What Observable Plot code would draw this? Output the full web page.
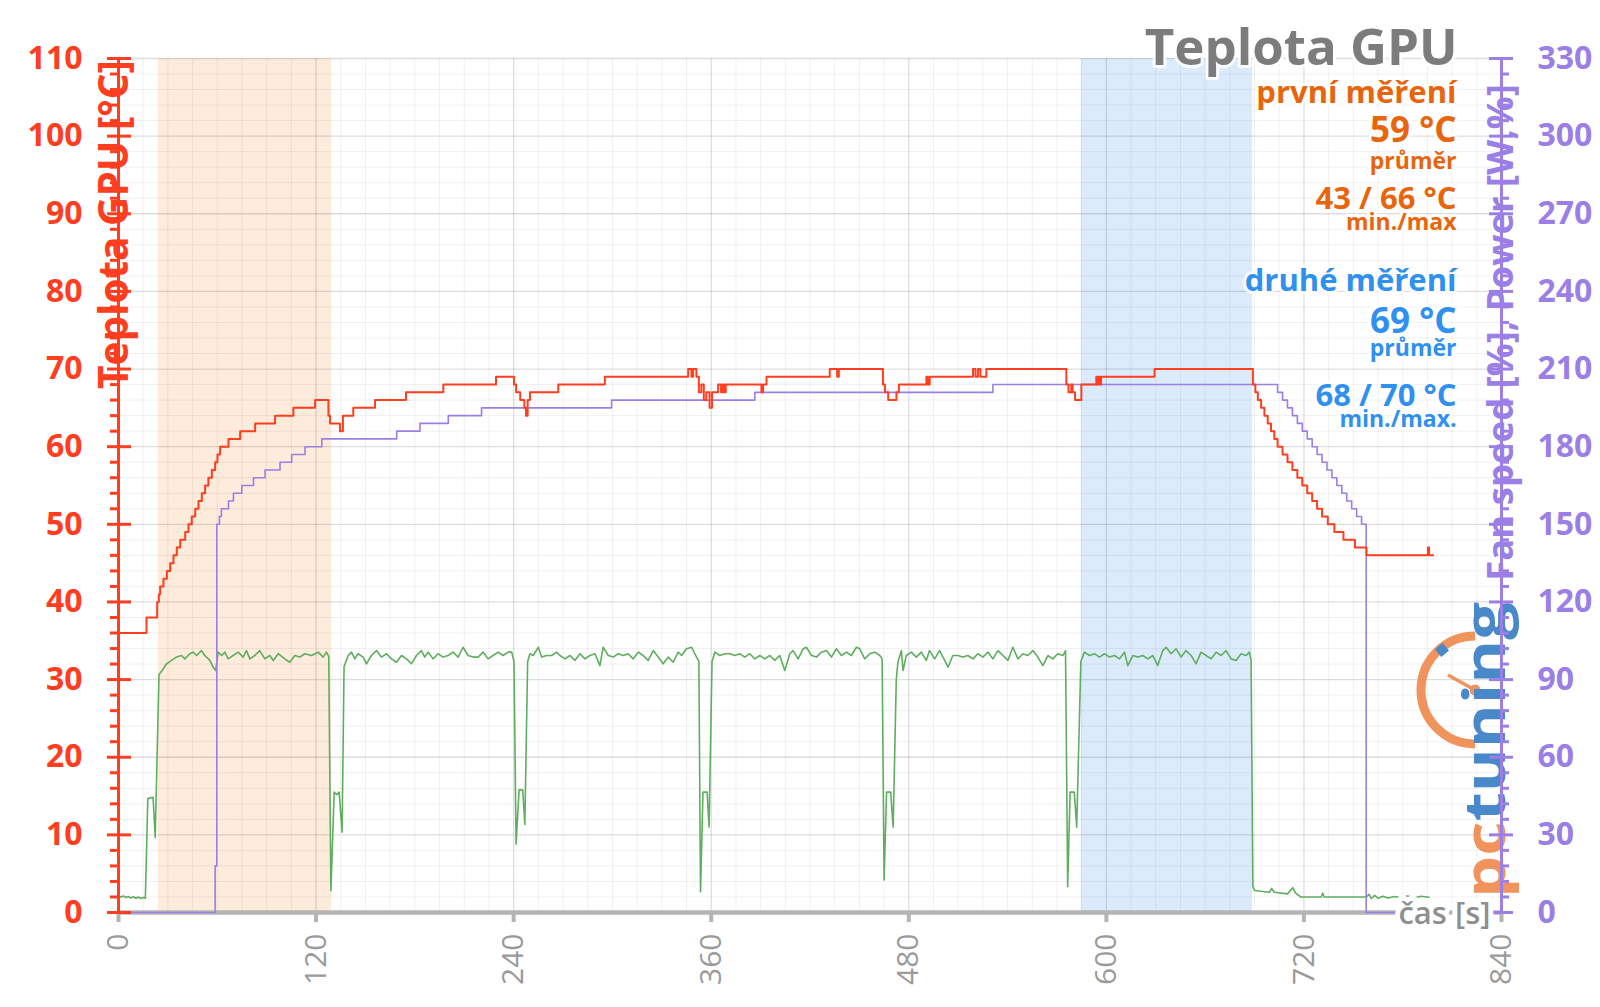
<!DOCTYPE html>
<html><head><meta charset="utf-8">
<script src="https://cdn.jsdelivr.net/npm/d3@7"></script>
<script src="https://cdn.jsdelivr.net/npm/@observablehq/plot@0.6"></script>
<style>html,body{margin:0;padding:0;background:#fff;overflow:hidden}svg{display:block}</style>
</head><body><div id="chart"></div>
<script>
// ---------- data ----------
const xTicks = [0, 120, 240, 360, 480, 600, 720, 840];
const yTicksLeft = [0, 10, 20, 30, 40, 50, 60, 70, 80, 90, 100, 110];
const yTicksRight = [0, 30, 60, 90, 120, 150, 180, 210, 240, 270, 300, 330];
const chartTitle = ["Teplota GPU"];
const leftTitle = ["Teplota GPU [°C]"];
const rightTitle = ["Fan speed [%], Power [W,%]"];
const xTitle = ["čas [s]"];
const firstRunTexts = ["první měření", "59 °C", "průměr", "43 / 66 °C", "min./max"];
const secondRunTexts = ["druhé měření", "69 °C", "průměr", "68 / 70 °C", "min./max."];
const bandStart = [24.3, 584.7];
const bandEnd = [129.5, 688.8];

// GPU temperature [°C] (time s, value) – stepwise
const temperature = [[0,36],[17,38],[23.5,40],[24.5,41],[25.3,42],[27.3,43],[29.4,44],[31.4,45],[33.4,46],[35.4,47],[37.5,48],[40.5,49],[42.5,50],[44.5,51],[46.6,52],[48.6,53],[50.6,54],[52.6,55],[54.6,56],[56.7,57],[58.7,58],[60.1,59],[61.7,60],[66.8,61],[73.9,62],[83,63],[95.1,64],[106.2,65],[119.4,66],[127.5,64],[128.5,63],[134.5,62],[136.3,64],[142.6,65],[155.8,66],[174.6,67],[197.3,68],[229.3,69],[240.2,68],[241.5,67],[244,66],[246.5,65],[247.5,64],[248.5,66],[249.9,67],[267.1,68],[295.4,69],[346,70],[348,69],[349,70],[351,69],[352.5,67],[354,68],[355.5,66],[357,67],[359,65],[360.5,67],[364.2,68],[366,67],[367,68],[368,67],[368.8,68],[390.5,67],[391.5,68],[393.6,69],[432,70],[436.5,69],[437.5,70],[464.3,68],[465.5,67],[467.5,66],[472.5,67],[474,68],[490.7,69],[491.5,68],[492.7,69],[519,70],[520.5,69],[522,70],[523.5,69],[527.1,70],[575.7,68],[577,67],[578.7,68],[579.5,67],[581,66],[584.8,68],[593.9,69],[594.5,68],[595.2,69],[596,68],[596.8,69],[629.3,70],[689,68],[690.5,67],[692,66],[694,65],[696,64],[698,63],[700,62],[702,61],[704,60],[707,59],[710,58],[713,57],[716,56],[719,55],[722,54],[725,53],[728,52],[731,51],[734.5,50],[738.5,49],[744,48],[751,47],[758,46],[795.3,47],[796,46],[798.5,46]];

// Fan speed (right axis units) – stepwise
const fan = [[0,0],[58.7,18],[59.7,150],[61.3,153],[62.5,156],[66.8,159],[69.8,162],[74.9,165],[82,168],[89,171],[98.1,174],[105.2,177],[113.3,180],[123.5,183],[169,186],[183.1,189],[200.3,192],[220.5,195],[299.5,198],[386.5,201],[531.1,204],[704,201],[707,198],[710,195],[713,192],[716,189],[719,186],[722,183],[725,180],[728,177],[731,174],[734,171],[737,168],[740,165],[743,162],[746,159],[749,156],[752,153],[755,150],[757.8,0],[798.5,0]];

// Power [W] (right axis units)
const power = [[0,6.3],[1.5,6.0],[3,6.4],[4.5,5.8],[6,6.2],[7.5,5.6],[9,6.1],[10.5,5.5],[12,6.0],[13.5,5.4],[15,5.8],[16.3,5.5],[17.8,44],[21,44.5],[22.3,29],[24.6,92],[26.5,93.5],[29.2,96.1],[32.2,97.4],[35.2,98.7],[38.3,99.3],[40.3,98],[43.3,100],[45.3,100.6],[47.4,99.3],[50.4,101.2],[52.4,99.3],[55.5,97.4],[57.5,94.8],[59.1,93.5],[60.5,100.6],[62.6,99.3],[64.6,100.6],[66.6,98],[69.6,99.3],[72.7,100.6],[75.7,98.7],[77.7,101.2],[79.8,98],[82.8,99.3],[85.8,101.2],[88.9,98],[91.9,99.3],[94,97.4],[97,100],[101,98],[104,96.7],[107.1,99.3],[110.1,98.7],[113.2,100],[117.2,99.3],[121.3,100.6],[124.3,98.7],[126.3,100.6],[127.7,99],
[129,8.4],[131,46.5],[132.5,45.5],[134,46.5],[135.8,31],[137,95],
[139.5,99.3],[141.5,100.6],[143.5,98],[145.5,100],[148.6,98.7],[150.6,96.1],[153.6,99.3],[156.7,101.2],[159.7,98.7],[162.8,100],[165.8,98],[168.8,96.7],[171.9,99.3],[174.9,98],[177.9,96.1],[181,99.3],[184,101.2],[186,98.7],[188.1,100.6],[191.1,98],[194.1,100],[197.2,98.7],[200.2,99.3],[203.2,100.6],[206.3,98.7],[209.3,102.5],[212.3,99.3],[215.4,98.7],[218.4,98.7],[221.5,100.6],[224.5,98],[227.5,99.3],[230.6,100.6],[233.6,99.3],[236.6,100.6],[238.8,100.6],[240.2,97],
[241.5,26.4],[243.3,47.4],[245.5,47.4],[246.8,34],[248.5,97],
[249.9,100],[251.9,99.3],[255,102.5],[257,98.7],[260,99.3],[263.1,99.3],[266.1,100.6],[268.1,99.3],[271.2,98],[274.2,99.3],[277.2,97.4],[280.3,100],[283.3,98],[286.3,99.3],[289.4,100],[292.4,95.4],[294.4,102.5],[297.5,99.3],[300.5,98.7],[303.5,100],[306.6,99.3],[309.6,100],[312.6,98],[315.7,100.6],[318.7,99.3],[321.7,97.4],[324.8,101.2],[327.8,98.7],[330.8,96.1],[333.9,98.7],[336.9,96.7],[339.9,100.6],[342,99.3],[345,101.9],[348.1,102.5],[351.1,98.7],[352.5,97],
[353.5,8],[355,46.5],[357.5,46.5],[358.7,33],[360.5,97],
[362.2,100.6],[365.2,99.3],[368.3,100],[371.3,100],[374.3,99.3],[377.4,100],[380.4,98.7],[383.4,100],[386.5,98],[389.5,99.3],[392.5,98],[395.6,99.3],[398.6,97.4],[401.6,99.3],[404.7,93.5],[407.7,100],[409.7,101.2],[412.8,98],[415.8,101.9],[417.8,102.5],[420.9,99.3],[423.9,98.7],[426.9,100.6],[430,101.2],[433,98.7],[436,101.9],[439.1,99.3],[442.1,100.6],[445.1,99.3],[448.2,102.5],[450.2,101.9],[453.2,98],[456.3,100],[459.3,100.6],[462.4,99.3],[463.8,98],
[465,12.6],[466.5,46.5],[469,46.5],[470.5,33],[472.4,90],
[473.4,96.7],[475.5,101.2],[476.5,93.5],[478.5,99.3],[481.5,100.6],[484.6,98.7],[487.6,100.6],[490.6,97.4],[492.6,101.2],[495.7,98],[498.7,101.2],[501.8,97.4],[503.8,94.8],[506.8,99.3],[509.8,99.3],[512.9,98.7],[515.9,99.3],[519,98],[522,100],[525,98.7],[528.1,100.6],[531.1,98],[534.1,101.2],[537.2,99.3],[540.2,97.4],[543.2,102.5],[546.3,98],[549.3,100],[552.3,99.3],[555.4,101.2],[558.4,98.7],[561.4,95.4],[564.5,99.3],[567.5,98],[570.5,100],[573.6,99.3],[575.2,101.2],
[576.5,10],[578,46.5],[580.5,46.5],[582,33],[584.5,97],
[586.7,100.6],[589.8,99.3],[592.8,100],[595.8,98.7],[598.9,100],[601.9,98.7],[604.9,99.3],[608,98],[611,100.6],[613,95.4],[616.1,99.3],[619.1,98.7],[622.1,99.3],[625.2,98],[628.2,99.3],[631.2,95.4],[634.3,101.2],[636.3,102.5],[639.3,100],[642.4,101.9],[645.4,98.7],[648.4,101.2],[651.5,99.3],[654.5,96.1],[657.5,100.6],[660.6,99.3],[663.6,98],[666.7,100.6],[669.7,99.3],[672.7,101.2],[675.8,98],[678.8,97.4],[681.8,100],[684.9,99.3],[686.9,100.6],[687.9,97.4],
[689,10],[690,8.5],[699,7.8],[700.4,9.3],[702,7.8],[710,7.2],[713.2,9.6],[715,7.5],[718,6],[730.5,6],[731.4,7.5],[732.3,6],[758,6],[759.5,7],[761,5.4],[763,6.6],[765,5.5],[768,6.3],[771,5.6],[775,6.2],[779,5.7],[783,6.4],[787,5.6],[791,6.3],[796,5.9]];

// ---------- styling ----------
const RED = "#ff3d1f", PURPLE = "#9b7fe6", GREEN = "#5fae5f", GRAY = "#9a9a9a";
const ORANGE_T = "#e8650c", BLUE_T = "#2f90f0";
const R = 3; // right axis units per left axis unit

const tempData = temperature.map(([t, c]) => ({t, c}));
const fanData = fan.map(([t, v]) => ({t, v}));
const powerData = power.map(([t, w]) => ({t, w}));
const bands = bandStart.map((s, i) => ({s, e: bandEnd[i]}));
const minorY = d3.range(0, 111, 2).filter(d => d % 10 !== 0);
const minorX = d3.range(0, 841, 15).filter(d => d % 120 !== 0);

function logo(index, scales, values, dims) {
  const g = d3.create("svg:g").attr("opacity", 0.92);
  const cx = dims.width - dims.marginRight - 26, cy = 690, r = 54;
  g.append("path").attr("d", `M${cx},${cy - r} A${r},${r} 0 0 0 ${cx},${cy + r}`)
    .attr("fill", "none").attr("stroke", "#f08a4f").attr("stroke-width", 9);
  g.append("rect").attr("x", -5).attr("y", -5).attr("width", 10).attr("height", 10)
    .attr("fill", "#3a7fc6").attr("transform", `translate(${cx - 33},${cy - 40}) rotate(-40)`);
  g.append("line").attr("x1", cx - 27).attr("y1", cy - 15).attr("x2", cx).attr("y2", cy)
    .attr("stroke", "#f08a4f").attr("stroke-width", 3.5);
  g.append("circle").attr("cx", cx).attr("cy", cy).attr("r", 5.5).attr("fill", "#f08a4f");
  const t = g.append("text").attr("transform", `translate(${cx + 30},898) rotate(-90)`)
    .attr("text-anchor", "start")
    .attr("font-family", "Open Sans").attr("font-weight", 700).attr("font-size", 58)
    .attr("textLength", 296).attr("lengthAdjust", "spacingAndGlyphs");
  t.append("tspan").attr("fill", "#f08a4f").text("pc");
  t.append("tspan").attr("fill", "#3a7fc6").text("tuning");
  return g.node();
}

const halo = {stroke: "white", strokeWidth: 6, strokeOpacity: 0.85, paintOrder: "stroke"};
function note(txt, color, size, dy) {
  return Plot.text([txt], {frameAnchor: "top-right", text: d => d, textAnchor: "end", lineAnchor: "top",
    dx: -45, dy, fontSize: size, fontWeight: "bold", fill: color, ...halo});
}

const chart = Plot.plot({
  width: 1600, height: 1007,
  marginLeft: 118, marginRight: 99, marginTop: 58, marginBottom: 95,
  x: {domain: [0, 840]},
  y: {domain: [0, 110]},
  style: {fontFamily: "'Open Sans', sans-serif", background: "#fff", overflow: "visible"},
  marks: [
    Plot.rect([bands[0]], {x1: "s", x2: "e", y1: 0, y2: 110, fill: "#fdebdb"}),
    Plot.rect([bands[1]], {x1: "s", x2: "e", y1: 0, y2: 110, fill: "#dcebfc"}),
    Plot.gridX(minorX, {stroke: "#000", strokeOpacity: 0.06}),
    Plot.gridY(minorY, {stroke: "#000", strokeOpacity: 0.06}),
    Plot.gridX(xTicks, {stroke: "#000", strokeOpacity: 0.13, strokeWidth: 1.3}),
    Plot.gridY(yTicksLeft, {stroke: "#000", strokeOpacity: 0.13, strokeWidth: 1.3}),
    Plot.ruleY([0], {x1: 0, x2: 840, stroke: "#b4b4b4", strokeWidth: 4.5}),
    Plot.axisX(xTicks, {tickSize: 10, tickFormat: () => "", stroke: "#b4b4b4", strokeWidth: 4, label: null}),
    Plot.text(xTicks, {x: d => d, frameAnchor: "bottom", text: d => String(d), rotate: -90, textAnchor: "end",
      lineAnchor: "middle", dy: 21, fontSize: 30, fill: GRAY}),
    logo,
    Plot.line(powerData, {x: "t", y: d => d.w / R, stroke: GREEN, strokeWidth: 1.6}),
    Plot.line(fanData, {x: "t", y: d => d.v / R, curve: "step-after", stroke: PURPLE, strokeWidth: 1.6}),
    Plot.line(tempData, {x: "t", y: "c", curve: "step-after", stroke: RED, strokeWidth: 2}),
    Plot.ruleX([0], {y1: 0, y2: 110, stroke: RED, strokeWidth: 3}),
    Plot.ruleX([840], {y1: 0, y2: 110, stroke: PURPLE, strokeWidth: 3}),
    Plot.axisY(minorY, {anchor: "left", tickSize: 10, dx: 2, tickFormat: () => "", stroke: RED, strokeWidth: 3, label: null}),
    Plot.axisY(yTicksLeft, {anchor: "left", tickSize: 24, dx: 13, tickFormat: () => "", stroke: RED, strokeWidth: 3, label: null}),
    Plot.axisY(minorY, {anchor: "right", tickSize: 9, dx: -2, tickFormat: () => "", stroke: PURPLE, strokeWidth: 3, label: null}),
    Plot.axisY(yTicksRight.map(d => d / R), {anchor: "right", tickSize: 24, dx: -13, tickFormat: () => "", stroke: PURPLE, strokeWidth: 3, label: null}),
    Plot.text(yTicksLeft, {y: d => d, frameAnchor: "left", dx: -36, textAnchor: "end", text: d => String(d),
      fontSize: 32, fontWeight: "bold", fill: RED}),
    Plot.text(yTicksRight, {y: d => d / R, frameAnchor: "right", dx: 36, textAnchor: "start", text: d => String(d),
      fontSize: 32, fontWeight: "bold", fill: PURPLE}),
    Plot.text(leftTitle, {frameAnchor: "top-left", text: d => d, rotate: -90, textAnchor: "middle", lineAnchor: "middle",
      dx: -3, dy: 166, fontSize: 40.5, fontWeight: "bold", fill: RED}),
    Plot.text(rightTitle, {frameAnchor: "top-right", text: d => d, rotate: -90, textAnchor: "middle", lineAnchor: "middle",
      dx: 0, dy: 274, fontSize: 36.5, fontWeight: "bold", fill: PURPLE}),
    Plot.text(xTitle, {frameAnchor: "bottom-right", text: d => d, textAnchor: "end", lineAnchor: "top",
      dx: -11, dy: -11, fontSize: 31, fontWeight: 600, fill: "#8f8f8f", stroke: "white", strokeWidth: 10, paintOrder: "stroke"}),
    Plot.text(chartTitle, {frameAnchor: "top-right", text: d => d, textAnchor: "end", lineAnchor: "top",
      dx: -44, dy: -30, fontSize: 51, fontWeight: "bold", fill: "#7c7c7c", ...halo}),
    note(firstRunTexts[0], ORANGE_T, 31, 22),
    note(firstRunTexts[1], ORANGE_T, 35, 58.9),
    note(firstRunTexts[2], ORANGE_T, 23, 94),
    note(firstRunTexts[3], ORANGE_T, 31, 128.3),
    note(firstRunTexts[4], ORANGE_T, 23, 155),
    note(secondRunTexts[0], BLUE_T, 31, 210.3),
    note(secondRunTexts[1], BLUE_T, 35, 250),
    note(secondRunTexts[2], BLUE_T, 23, 280.7),
    note(secondRunTexts[3], BLUE_T, 31, 325),
    note(secondRunTexts[4], BLUE_T, 23, 351.7)
  ]
});
document.getElementById("chart").appendChild(chart);
</script></body></html>
